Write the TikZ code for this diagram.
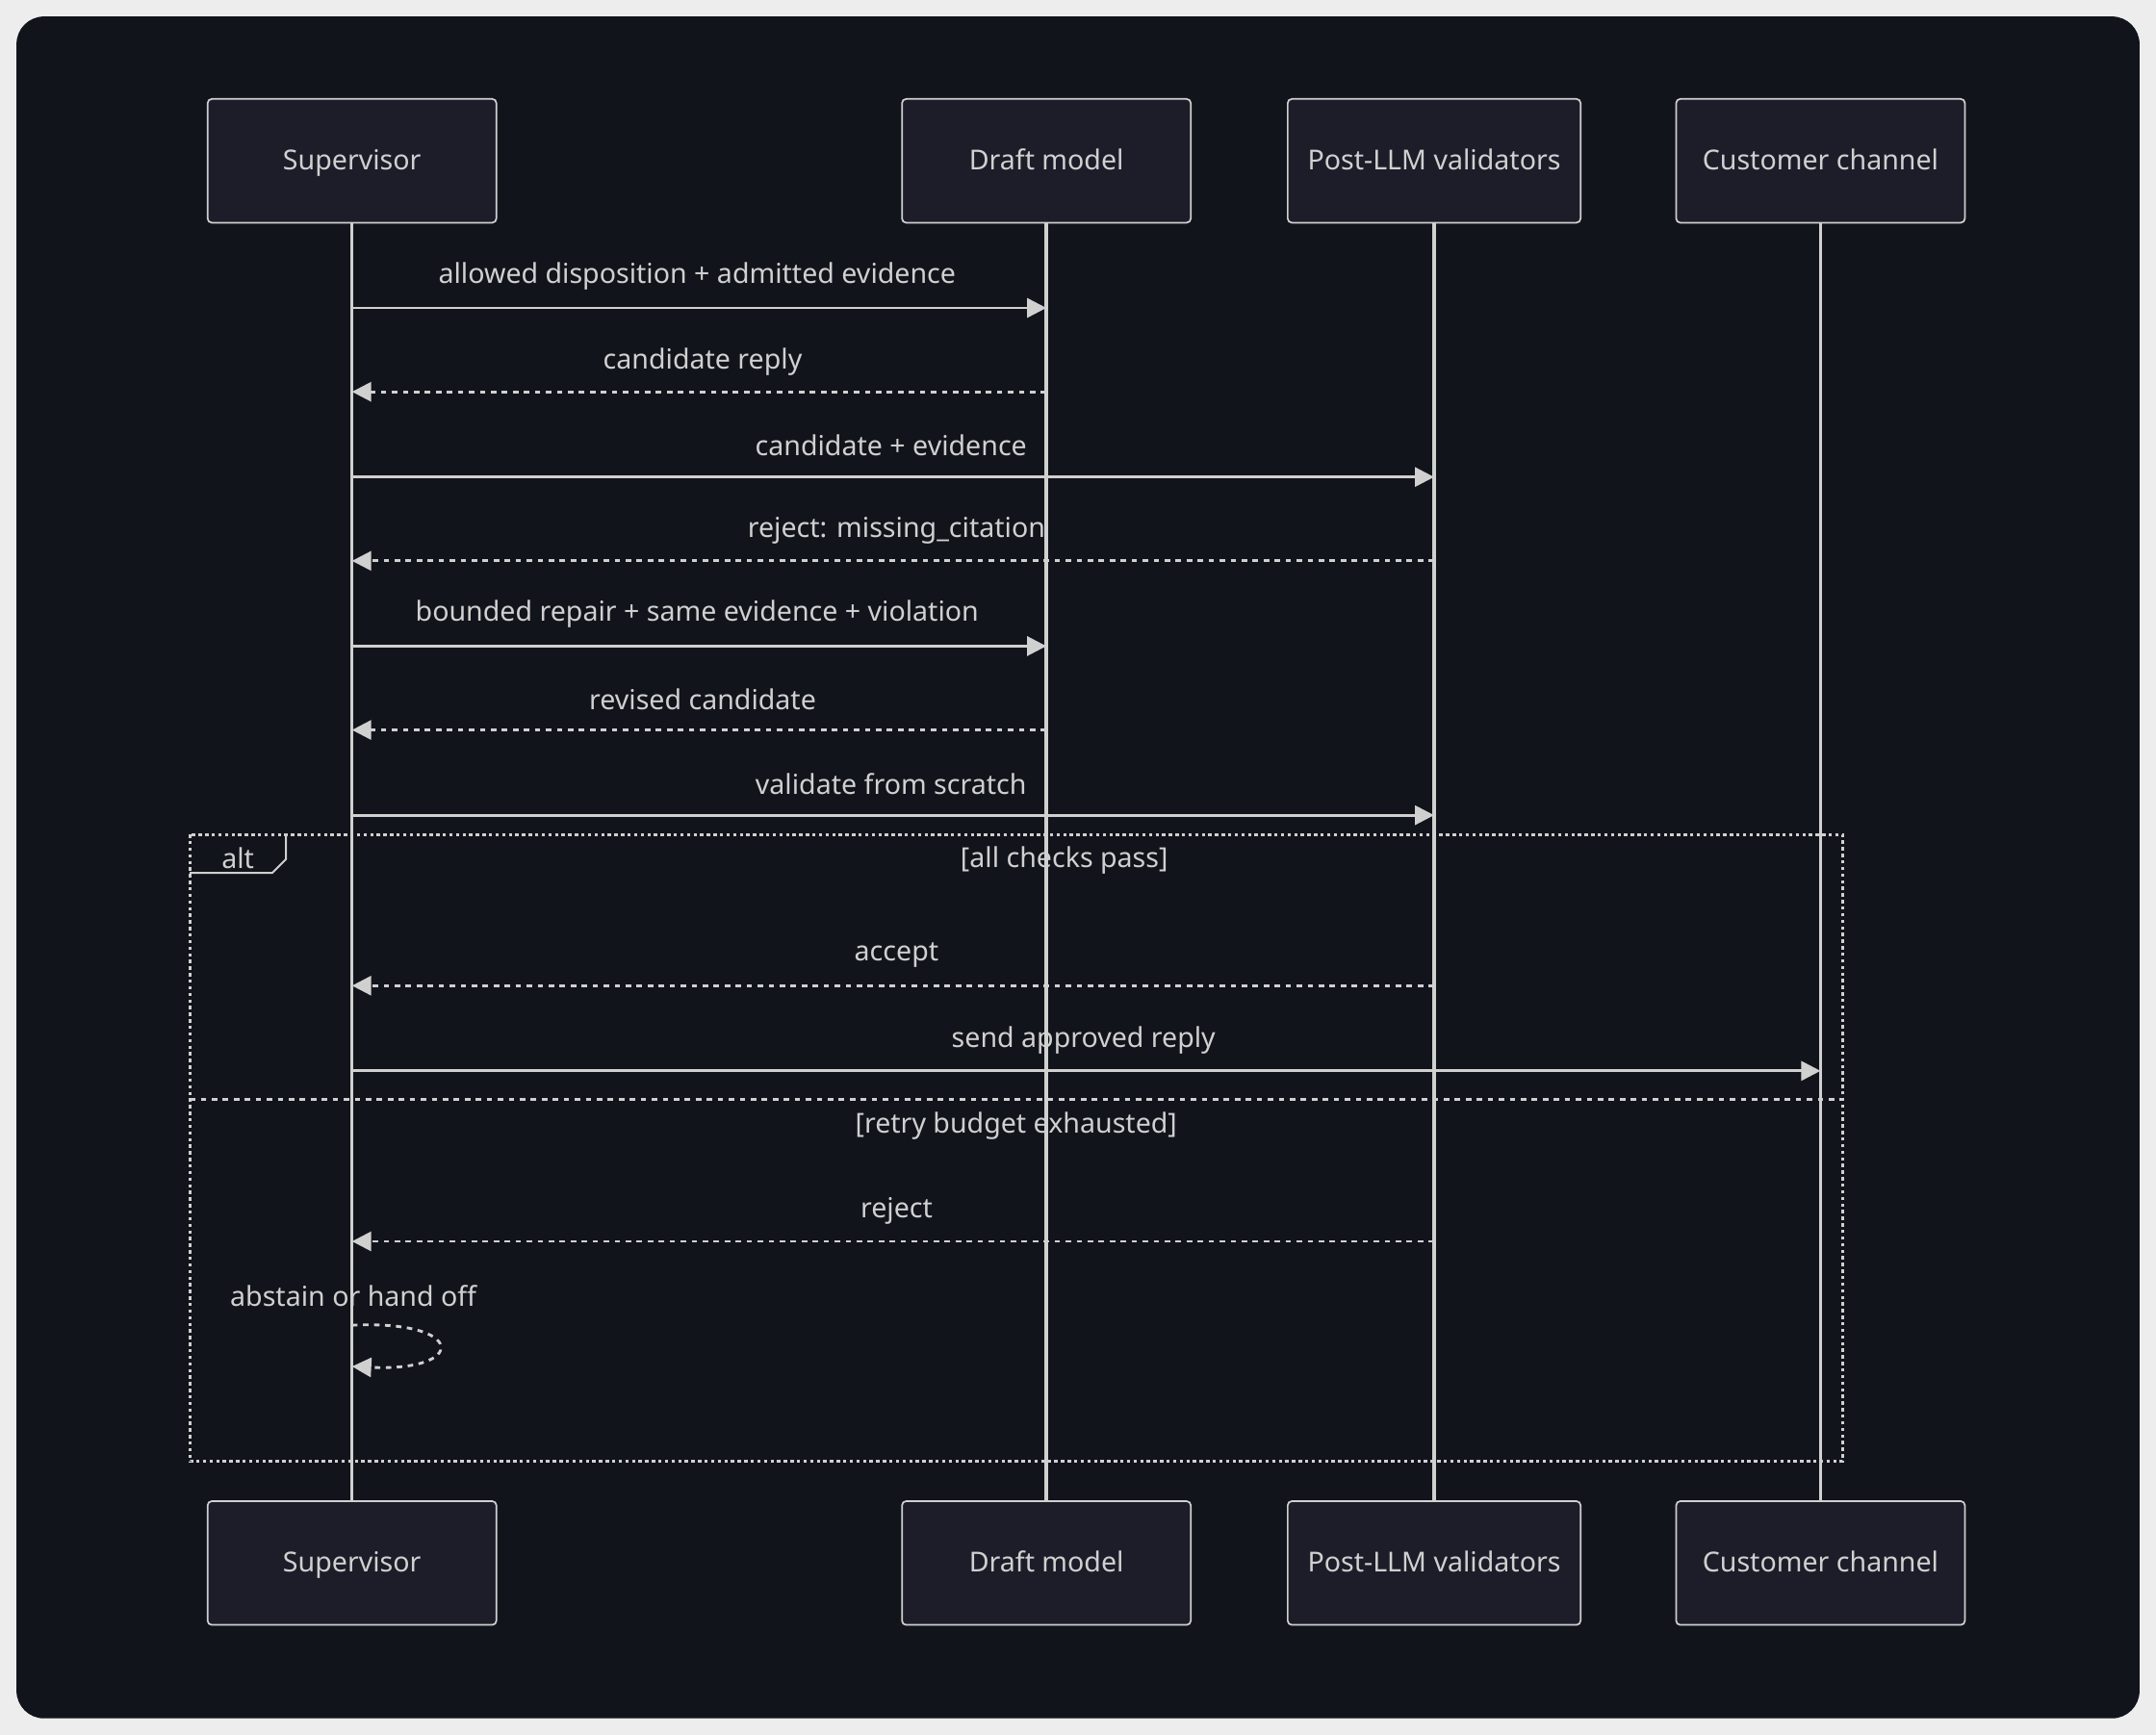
\documentclass[tikz,border=0pt]{standalone}
\usepackage{fontspec}
\setmainfont{Noto Sans}
\usetikzlibrary{arrows.meta}
\definecolor{bg}{HTML}{12141C}
\definecolor{boxf}{HTML}{1C1D29}
\definecolor{ln}{HTML}{D0D0D0}
\definecolor{outer}{HTML}{EDEDED}
\begin{document}
\begin{tikzpicture}[x=0.5pt,y=-0.5pt,
  actor/.style={draw=ln,fill=boxf,rounded corners=1.5pt,minimum width=105pt,minimum height=45pt,text=ln,font=\fontsize{10}{12}\selectfont,line width=0.6pt,text height=1.7ex,text depth=0.45ex},
  lbl/.style={text=ln,font=\fontsize{10}{12}\selectfont,inner sep=1pt},
  life/.style={draw=ln,line width=1.2pt},
  msg/.style={draw=ln,line width=1pt,-{Triangle[length=7pt,width=7pt]}},
  ret/.style={msg,dash pattern=on 2pt off 2pt}]
\useasboundingbox (0,0) rectangle (1568,1262);
\fill[outer] (0,0) rectangle (1568,1262);
\fill[bg,rounded corners=10pt] (12,12) rectangle (1556,1250);
% lifelines
\foreach \x in {256,761,1043,1324} \draw[life] (\x,162) -- (\x,1092);
\node[actor] (s1) at (256,117) {Supervisor};
\node[actor] (d1) at (761,117) {Draft model};
\node[actor,minimum width=106.5pt] (p1) at (1043,117) {Post-LLM validators};
\node[actor] (c1) at (1324,117) {Customer channel};
\node[actor] (s2) at (256,1137) {Supervisor};
\node[actor] (d2) at (761,1137) {Draft model};
\node[actor,minimum width=106.5pt] (p2) at (1043,1137) {Post-LLM validators};
\node[actor] (c2) at (1324,1137) {Customer channel};
% messages
\coordinate (a1) at (256,224); \coordinate (b1) at (761,224);
\draw[msg] (a1) -- (b1); \node[lbl] at (507,201) {allowed disposition + admitted evidence};
\coordinate (a2) at (761,285); \coordinate (b2) at (256,285);
\draw[ret] (a2) -- (b2); \node[lbl] at (511,263) {candidate reply};
\coordinate (a3) at (256,347); \coordinate (b3) at (1043,347);
\draw[msg] (a3) -- (b3); \node[lbl] at (648,324) {candidate + evidence};
\coordinate (a4) at (1043,408); \coordinate (b4) at (256,408);
\draw[ret] (a4) -- (b4); \node[lbl] at (652,386) {reject: missing\_citation};
\coordinate (a5) at (256,470); \coordinate (b5) at (761,470);
\draw[msg] (a5) -- (b5); \node[lbl] at (507,447) {bounded repair + same evidence + violation};
\coordinate (a6) at (761,531); \coordinate (b6) at (256,531);
\draw[ret] (a6) -- (b6); \node[lbl] at (511,509) {revised candidate};
\coordinate (a7) at (256,593); \coordinate (b7) at (1043,593);
\draw[msg] (a7) -- (b7); \node[lbl] at (648,570) {validate from scratch};
% alt frame
\draw[ln,line width=1.1pt,dash pattern=on 1.2pt off 1.2pt] (138,607) rectangle (1340,1063);
\draw[ln,line width=1.1pt,dash pattern=on 2pt off 2pt] (138,800) -- (1340,800);
\draw[ln,line width=0.7pt] (138,635) -- (198,635) -- (208,625) -- (208,607);
\node[lbl] (alt) at (173,624) {alt};
\node[lbl] at (774,626) {[all checks pass]};
\coordinate (a8) at (1043,717); \coordinate (b8) at (256,717);
\draw[ret] (a8) -- (b8); \node[lbl] at (652,695) {accept};
\coordinate (a9) at (256,779); \coordinate (b9) at (1324,779);
\draw[msg] (a9) -- (b9); \node[lbl] at (788,757) {send approved reply};
\node[lbl] at (739,819) {[retry budget exhausted]};
\coordinate (a10) at (1043,903); \coordinate (b10) at (256,903);
\draw[ret] (a10) -- (b10); \node[lbl] at (652,881) {reject};
\coordinate (l1) at (256,964); \coordinate (l2) at (256,994);
\draw[ret] (l1) .. controls (340,960) and (340,998) .. (l2);
\node[lbl] at (257,943) {abstain or hand off};
\end{tikzpicture}
\end{document}
